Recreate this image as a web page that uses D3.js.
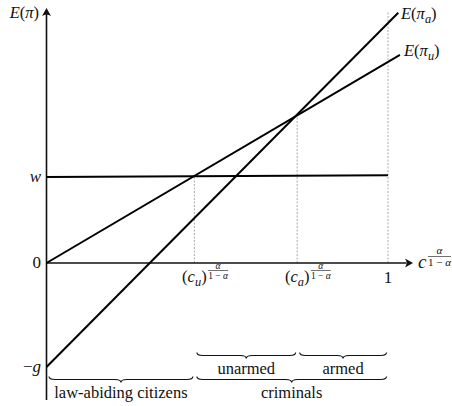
<!DOCTYPE html>
<html>
<head>
<meta charset="utf-8">
<script src="https://cdn.jsdelivr.net/npm/d3@7"></script>
<style>
  body { margin: 0; background: #fff; }
  svg { display: block; font-family: 'Liberation Serif', 'DejaVu Serif', serif; }
</style>
</head>
<body>
<div id="chart"></div>
<script>
// thresholds on the x axis, c^(alpha/(1-alpha))
const cU = 0.433;
const cA = 0.734;

// expected payoffs, [x, E(pi)] end points, w = 1
const wageLine = [[0, 1.00], [1, 1.02]];
const unarmedLine = [[0, 0], [1.035, 2.42]];
const armedLine = [[0, -1.21], [1.03, 2.91]];

// dashed guides: where they stand and how high they reach
const guideX = [cU, cA, 1];
const guideTop = [1.0, 1.718, 2.92];

const yTickValues = [1.0, 0, -1.21];
const yTickLabels = [[['w', 'i']], [['0', '']], [['−', ''], ['g', 'i']]];

const braceFrom = [0, cU, cU, cA];
const braceTo = [cU, 1, cA, 1];
const braceLabels = ['law-abiding citizens', 'criminals', 'unarmed', 'armed'];
const braceRow = [1, 1, 0, 0];

(function main() {
    const width = 452, height = 406;

    const svg = d3.select('#chart')
        .append('svg')
        .attr('width', width)
        .attr('height', height);

    const x = d3.scaleLinear().domain([0, 1]).range([46.5, 388]);
    const y = d3.scaleLinear().domain([0, 1]).range([263, 177]);

    const axisColor = '#111';

    // math text helper: parts are [text, style] with style '', 'i' or 'sub'
    function mathText(g, px, py, parts, size, anchor) {
        const t = g.append('text')
            .attr('x', px)
            .attr('y', py)
            .attr('font-size', size)
            .attr('text-anchor', anchor || 'start')
            .attr('fill', '#111');
        let shifted = false;
        parts.forEach(([s, style]) => {
            const sp = t.append('tspan').text(s);
            if (style === 'i' || style === 'sub') sp.attr('font-style', 'italic');
            if (style === 'sub') {
                sp.attr('font-size', size * 0.75).attr('dy', size * 0.25);
                shifted = true;
            } else if (shifted) {
                sp.attr('dy', -size * 0.25);
                shifted = false;
            }
        });
        return t;
    }

    // small fraction alpha / (1 - alpha)
    function fraction(g, x0, yMid, size) {
        const den = g.append('text')
            .attr('x', x0)
            .attr('y', yMid + size * 0.85)
            .attr('font-size', size)
            .attr('fill', '#111');
        den.append('tspan').text('1 − ');
        den.append('tspan').attr('font-style', 'italic').text('α');
        const w = den.node().getComputedTextLength();
        g.append('text')
            .attr('x', x0 + w / 2)
            .attr('y', yMid - size * 0.2)
            .attr('font-size', size)
            .attr('font-style', 'italic')
            .attr('text-anchor', 'middle')
            .attr('fill', '#111')
            .text('α');
        g.append('line')
            .attr('x1', x0).attr('x2', x0 + w)
            .attr('y1', yMid).attr('y2', yMid)
            .attr('stroke', '#111')
            .attr('stroke-width', 0.6);
        return w;
    }

    function arrowHead(px, py, angle) {
        svg.append('path')
            .attr('d', 'M0,0 L-8,-4.5 Q-5,0 -8,4.5 Z')
            .attr('transform', `translate(${px},${py}) rotate(${angle})`)
            .attr('fill', axisColor);
    }

    // dashed guides
    svg.append('g').selectAll('line')
        .data(guideX)
        .join('line')
        .attr('x1', d => x(d)).attr('x2', d => x(d))
        .attr('y1', y(0))
        .attr('y2', (d, i) => y(guideTop[i]))
        .attr('stroke', '#aaa')
        .attr('stroke-width', 1)
        .attr('stroke-dasharray', '2,1.5');

    // axes
    svg.append('line')
        .attr('x1', x(0)).attr('x2', 406)
        .attr('y1', y(0)).attr('y2', y(0))
        .attr('stroke', axisColor).attr('stroke-width', 1.6);
    arrowHead(413, y(0), 0);

    svg.append('line')
        .attr('x1', x(0)).attr('x2', x(0))
        .attr('y1', 400).attr('y2', 14)
        .attr('stroke', axisColor).attr('stroke-width', 1.6);
    arrowHead(x(0), 8, -90);

    // payoff lines
    const line = d3.line().x(d => x(d[0])).y(d => y(d[1]));
    svg.append('g').selectAll('path')
        .data([wageLine, unarmedLine, armedLine])
        .join('path')
        .attr('d', line)
        .attr('fill', 'none')
        .attr('stroke', '#000')
        .attr('stroke-width', 2);

    // y tick labels
    yTickValues.forEach((v, i) => {
        mathText(svg, 41, y(v) + 5, yTickLabels[i], 17, 'end');
    });

    // axis titles
    mathText(svg, 39, 18, [['E', 'i'], ['(', ''], ['π', 'i'], [')', '']], 16.5, 'end');
    mathText(svg, 401, 19, [['E', 'i'], ['(', ''], ['π', 'i'], ['a', 'sub'], [')', '']], 16.5);
    mathText(svg, 404, 56, [['E', 'i'], ['(', ''], ['π', 'i'], ['u', 'sub'], [')', '']], 16.5);

    const cLab = mathText(svg, 418, 268, [['c', 'i']], 19);
    fraction(svg, 418 + cLab.node().getComputedTextLength() + 1.5, 256.5, 11);

    // x tick labels
    [[cU, 'u'], [cA, 'a']].forEach(([v, s]) => {
        const g = svg.append('g');
        const t = mathText(g, 0, 282, [['(', ''], ['c', 'i'], [s, 'sub'], [')', '']], 16.5);
        const w = t.node().getComputedTextLength();
        const x0 = x(v) - w / 2;
        t.attr('x', x0);
        fraction(g, x0 + w + 1.5, 270.5, 9.5);
    });
    mathText(svg, x(1), 283, [['1', '']], 17, 'middle');

    // braces pointing down
    function bracePath(x0, x1, y0, h) {
        const mid = (x0 + x1) / 2, r = h, ym = y0 + h / 2;
        return `M${x0},${y0} Q${x0},${ym} ${x0 + r},${ym} L${mid - r},${ym} ` +
            `Q${mid},${ym} ${mid},${y0 + h} Q${mid},${ym} ${mid + r},${ym} ` +
            `L${x1 - r},${ym} Q${x1},${ym} ${x1},${y0}`;
    }
    const rowTop = [352.5, 376.5];
    const rowText = [374, 398];
    braceLabels.forEach((label, i) => {
        const x0 = x(braceFrom[i]) + 2.5, x1 = x(braceTo[i]) - 1.5;
        svg.append('path')
            .attr('d', bracePath(x0, x1, rowTop[braceRow[i]], 6))
            .attr('fill', 'none')
            .attr('stroke', '#111')
            .attr('stroke-width', 1.1);
        svg.append('text')
            .attr('x', (x0 + x1) / 2)
            .attr('y', rowText[braceRow[i]])
            .attr('font-size', 16.5)
            .attr('text-anchor', 'middle')
            .attr('fill', '#111')
            .text(label);
    });
})();
</script>
</body>
</html>
